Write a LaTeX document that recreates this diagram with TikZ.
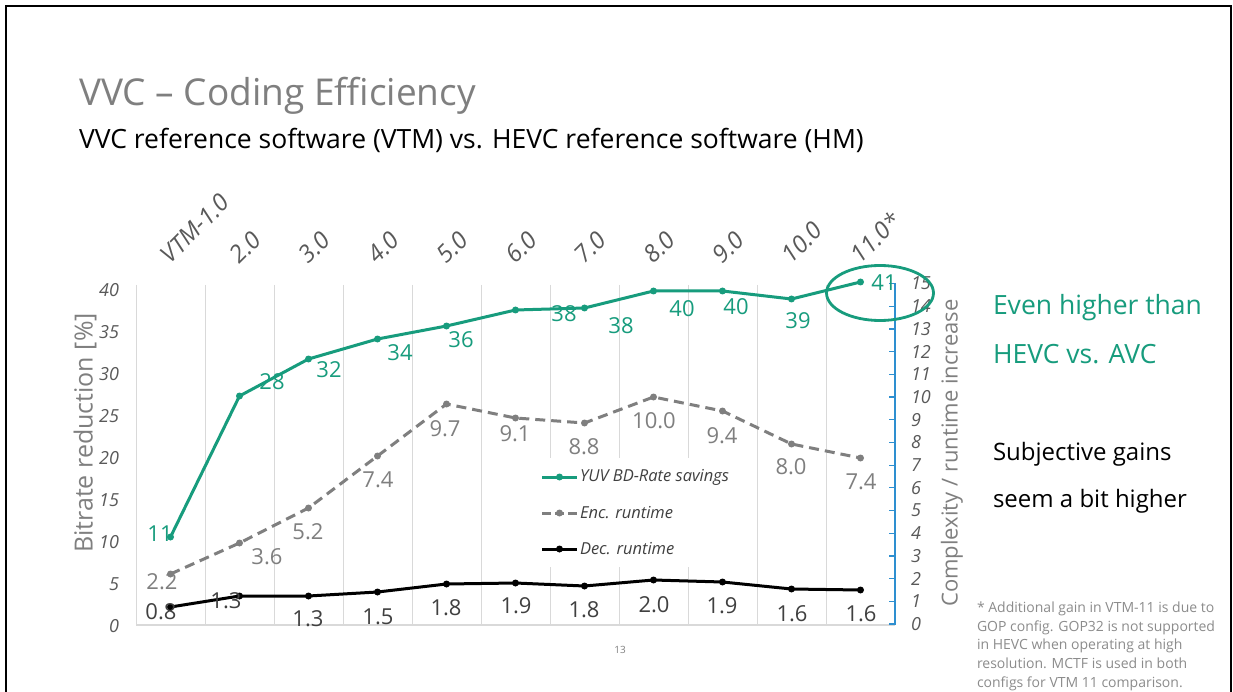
\documentclass[tikz,border=0pt]{standalone}
\usepackage{fontspec}
\setmainfont{Open Sans}
\usetikzlibrary{shapes.geometric}
\definecolor{fgreen}{HTML}{179C7D}
\definecolor{tgray}{HTML}{7F7F7F}
\definecolor{lgray}{HTML}{8C8C8C}
\definecolor{axgray}{HTML}{595959}
\definecolor{dgray}{HTML}{404040}
\definecolor{gridc}{HTML}{D9D9D9}
\definecolor{axblue}{HTML}{2E8FD0}
\begin{document}
\begin{tikzpicture}[x=1pt,y=-1pt,
  every node/.style={inner sep=0pt,outer sep=0pt},
  gridline/.style={gridc,line width=1pt},
  greenline/.style={fgreen,line width=3pt,line join=round},
  encline/.style={tgray,line width=3pt,dash pattern=on 10pt off 6pt},
  decline/.style={black,line width=3pt,line join=round},
  gdot/.style={circle,fill=fgreen,minimum size=7pt},
  edot/.style={circle,fill=tgray,minimum size=7pt},
  ddot/.style={circle,fill=black,minimum size=7pt},
  glab/.style={text=fgreen,font=\fontsize{22}{22}\selectfont},
  elab/.style={text=tgray,font=\fontsize{22}{22}\selectfont},
  dlab/.style={text=dgray,font=\fontsize{22}{22}\selectfont},
  catlab/.style={text=axgray,font=\fontsize{24}{24}\selectfont\itshape,rotate=45,anchor=south west},
  laxlab/.style={text=axgray,font=\fontsize{18}{18}\selectfont\itshape,anchor=east},
  raxlab/.style={text=axgray,font=\fontsize{18}{18}\selectfont\itshape,anchor=west},
  legtext/.style={text=dgray,font=\fontsize{16.5}{16.5}\selectfont\itshape,anchor=west},
  foot/.style={text=lgray,font=\fontsize{14}{14}\selectfont,anchor=base west}
]
\useasboundingbox (0,0) rectangle (1233,692);
\fill[white] (0,0) rectangle (1233,692);
% frame
\draw[black,line width=2.5pt] (6,692) -- (6,6) -- (1231,6) -- (1231,692);

% titles
\node[anchor=base west,text=tgray,font=\fontsize{37}{37}\selectfont] (title) at (79,106) {VVC – Coding Efficiency};
\node[anchor=base west,text=black,font=\fontsize{26.5}{26.5}\selectfont] (subtitle) at (79,149) {VVC reference software (VTM) vs. HEVC reference software (HM)};

% vertical grid lines
\foreach \i in {0,...,11} {
  \draw[gridline] ({136+69*\i},285) -- ({136+69*\i},625);
}
\draw[gridc,line width=1.5pt] (136,625) -- (895,625);

% legend background
\fill[white] (532,458) rectangle (748,567);

% right axis
\draw[axblue,line width=1.2pt] (895,283) -- (895,625);
\foreach \v in {0,...,15} {
  \draw[axblue,line width=1.2pt] (889,{624-22.7*\v}) -- (895,{624-22.7*\v});
  \node[raxlab] at (911,{624-22.7*\v}) {\v};
}
% left axis labels
\foreach \v in {0,5,...,40} {
  \node[laxlab] at (119,{626-8.4*\v}) {\v};
}

% axis titles
\node[rotate=90,text=tgray,font=\fontsize{25}{25}\selectfont] (ltitle) at (85,433) {Bitrate reduction [\%]};
\node[rotate=90,text=tgray,font=\fontsize{22}{22}\selectfont] (rtitle) at (952,453) {Complexity / runtime increase};

% category labels
\foreach \t [count=\i from 0] in {VTM-1.0,2.0,3.0,4.0,5.0,6.0,7.0,8.0,9.0,10.0,11.0*} {
  \node[catlab] at ({171+69*\i},265) {\t};
}

% data coordinates
\foreach \n/\gy/\ey/\dy [count=\i from 0] in {1/537/574/607,2/396/543/596,3/359/508/596,4/339/456/592,5/326/404/584,6/310/418/583,7/308/423/586,8/291/397/580,9/291/411/582,10/299/444/589,11/282/458/590} {
  \coordinate (g\n) at ({170.5+69*\i},\gy);
  \coordinate (e\n) at ({170.5+69*\i},\ey);
  \coordinate (d\n) at ({170.5+69*\i},\dy);
}

% decoder runtime
\draw[decline] (d1) -- (d2) -- (d3) -- (d4) -- (d5) -- (d6) -- (d7) -- (d8) -- (d9) -- (d10) -- (d11);
\foreach \n in {1,...,11} \node[ddot] at (d\n) {};
% encoder runtime
\draw[encline] (e1) -- (e2) -- (e3) -- (e4) -- (e5) -- (e6) -- (e7) -- (e8) -- (e9) -- (e10) -- (e11);
\foreach \n in {1,...,11} \node[edot] at (e\n) {};
% BD-rate
\draw[greenline] (g1) -- (g2) -- (g3) -- (g4) -- (g5) -- (g6) -- (g7) -- (g8) -- (g9) -- (g10) -- (g11);
\foreach \n in {1,...,11} \node[gdot] at (g\n) {};

% green labels
\node[glab] at (160,534) {11};
\node[glab] at (272,382) {28};
\node[glab] at (329,370) {32};
\node[glab] at (400,353) {34};
\node[glab] at (461,340) {36};
\node[glab] at (564,314) {38};
\node[glab] at (621,326) {38};
\node[glab] at (682,309) {40};
\node[glab] at (736,307) {40};
\node[glab] at (798,321) {39};
\node[glab] at (884,283) {41};

% encoder labels
\node[elab] at (162,582) {2.2};
\node[elab] at (267,557) {3.6};
\node[elab] at (308,532) {5.2};
\node[elab] at (378,480) {7.4};
\node[elab] at (445,429) {9.7};
\node[elab] at (515,434) {9.1};
\node[elab] at (584,447) {8.8};
\node[elab] at (654,421) {10.0};
\node[elab] at (722,436) {9.4};
\node[elab] at (791,467) {8.0};
\node[elab] at (861,482) {7.4};

% decoder labels
\node[dlab] at (161,612) {0.8};
\node[dlab] at (226,601) {1.3};
\node[dlab] at (308,619) {1.3};
\node[dlab] at (378,617) {1.5};
\node[dlab] at (446,608) {1.8};
\node[dlab] at (516,606) {1.9};
\node[dlab] at (584,610) {1.8};
\node[dlab] at (654,605) {2.0};
\node[dlab] at (722,606) {1.9};
\node[dlab] at (792,614) {1.6};
\node[dlab] at (861,614) {1.6};

% highlight ellipse
\node[draw=fgreen,line width=2.8pt,ellipse,minimum width=107pt,minimum height=55pt] (hl) at (880,293) {};

% legend
\coordinate (lg1a) at (542,477); \coordinate (lg1b) at (577,477);
\draw[greenline] (lg1a) -- (lg1b);
\node[gdot] at (559.5,477) {};
\node[legtext] at (580,477) {YUV BD-Rate savings};
\coordinate (lg2a) at (542,513); \coordinate (lg2b) at (577,513);
\draw[tgray,line width=3pt,dash pattern=on 9pt off 4pt] (lg2a) -- (lg2b);
\node[edot] at (559.5,513) {};
\node[legtext] at (580,513) {Enc. runtime};
\coordinate (lg3a) at (542,549); \coordinate (lg3b) at (577,549);
\draw[decline] (lg3a) -- (lg3b);
\node[ddot] at (559.5,549) {};
\node[legtext] at (580,549) {Dec. runtime};

% page number
\node[text=tgray,font=\fontsize{10}{10}\selectfont] (pg) at (620,650) {13};

% right-hand text
\node[anchor=base west,text=fgreen,font=\fontsize{26.5}{26.5}\selectfont] (t1) at (993,315) {Even higher than};
\node[anchor=base west,text=fgreen,font=\fontsize{26.5}{26.5}\selectfont] (t2) at (993,363) {HEVC vs. AVC};
\node[anchor=base west,text=black,font=\fontsize{24}{24}\selectfont] (t3) at (993,460) {Subjective gains};
\node[anchor=base west,text=black,font=\fontsize{24}{24}\selectfont] (t4) at (993,507) {seem a bit higher};

% footnote
\node[foot] (f1) at (977,612) {* Additional gain in VTM-11 is due to};
\node[foot] (f2) at (977,631) {GOP config. GOP32 is not supported};
\node[foot] (f3) at (977,649) {in HEVC when operating at high};
\node[foot] (f4) at (977,668) {resolution. MCTF is used in both};
\node[foot] (f5) at (977,687) {configs for VTM 11 comparison.};
\end{tikzpicture}
\end{document}
